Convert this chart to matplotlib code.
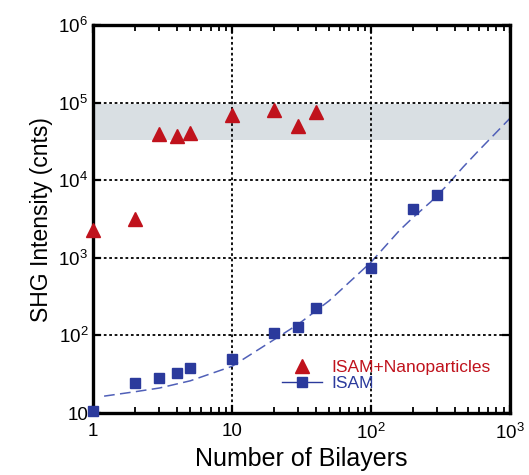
import numpy as np
import matplotlib.pyplot as plt
from matplotlib.lines import Line2D
from matplotlib.ticker import FixedLocator, FixedFormatter, LogLocator, NullLocator

plt.rcParams['font.family'] = ['Liberation Sans', 'DejaVu Sans']
plt.rcParams['mathtext.fontset'] = 'custom'
plt.rcParams['mathtext.rm'] = 'Liberation Sans'

# ISAM + nanoparticles (triangles)
nano_x = [1, 2, 3, 4, 5, 10, 20, 30, 40]
nano_y = [2300, 3200, 39000, 37000, 41000, 69000, 80000, 50000, 76000]

# ISAM only (squares)
isam_x = [1, 2, 3, 4, 5, 10, 20, 30, 40, 100, 200, 300]
isam_y = [10.5, 24.5, 28, 33, 38, 50, 107, 128, 225, 740, 4250, 6450]

# dashed fit curve
fit_x = [1.2, 2, 3, 5, 10, 20, 30, 50, 100, 160, 200, 270, 350, 460, 580, 1000]
fit_y = [16.5, 18.8, 21, 26, 40, 88, 140, 280, 880, 2250, 3300, 5300, 8500,
         14800, 23000, 63000]

# shaded band
band_lo, band_hi = 33000, 95000

xticks = [1, 10, 100, 1000]
xticklabels = ['1', '10', r'$\mathregular{10^2}$', r'$\mathregular{10^3}$']
yticks = [10, 100, 1000, 1e4, 1e5, 1e6]
yticklabels = ['10', r'$\mathregular{10^2}$', r'$\mathregular{10^3}$',
               r'$\mathregular{10^4}$', r'$\mathregular{10^5}$', r'$\mathregular{10^6}$']

red = '#c0121c'
blue = '#2b3a9c'
fitblue = '#5060b8'

fig = plt.figure(figsize=(5.29, 4.75), dpi=100)
ax = fig.add_axes([0.176, 0.1305, 0.788, 0.8165])

ax.set_xscale('log')
ax.set_yscale('log')
ax.set_xlim(1, 1000)
ax.set_ylim(10, 1e6)

ax.axhspan(band_lo, band_hi, color='#d9dfe3', zorder=0, lw=0)

ax.plot(fit_x, fit_y, '--', color=fitblue, lw=1.1, dashes=(7, 3.5), zorder=2)
ax.plot(nano_x, nano_y, '^', color=red, ms=9.5, zorder=4, clip_on=False, mec=red)
ax.plot(isam_x, isam_y, 's', color=blue, ms=7.5, zorder=4, clip_on=False, mec=blue)

ax.grid(True, which='major', color='black', linestyle=(0, (1.5, 1.5)), lw=1.3)
ax.set_axisbelow(False)

ax.xaxis.set_major_locator(FixedLocator(xticks))
ax.xaxis.set_major_formatter(FixedFormatter(xticklabels))
ax.xaxis.set_minor_locator(LogLocator(base=10, subs=np.arange(2, 10)))
ax.yaxis.set_major_locator(FixedLocator(yticks))
ax.yaxis.set_major_formatter(FixedFormatter(yticklabels))
ax.yaxis.set_minor_locator(NullLocator())

ax.tick_params(which='both', direction='in', top=True, right=True, labelsize=13.5)
ax.tick_params(which='major', length=6, width=1.6)
ax.tick_params(which='minor', length=4, width=1.3)
ax.tick_params(axis='x', pad=7)

for s in ax.spines.values():
    s.set_linewidth(2.4)

ax.set_xlabel('Number of Bilayers', fontsize=18, labelpad=3)
ax.set_ylabel('SHG Intensity (cnts)', fontsize=16.5, labelpad=4)

handles = [
    Line2D([], [], marker='^', color=red, ls='none', ms=9.5),
    Line2D([], [], marker='s', color=blue, ls='-', lw=1.0, ms=7.5),
]
leg = ax.legend(handles, ['ISAM+Nanoparticles', 'ISAM'], loc='upper left',
                bbox_to_anchor=(0.433, 0.16), frameon=False, fontsize=12.5,
                handlelength=2.3, handletextpad=0.5, labelspacing=0.05,
                borderpad=0, labelcolor=[red, blue])

fig.savefig('out.png', dpi=100)
